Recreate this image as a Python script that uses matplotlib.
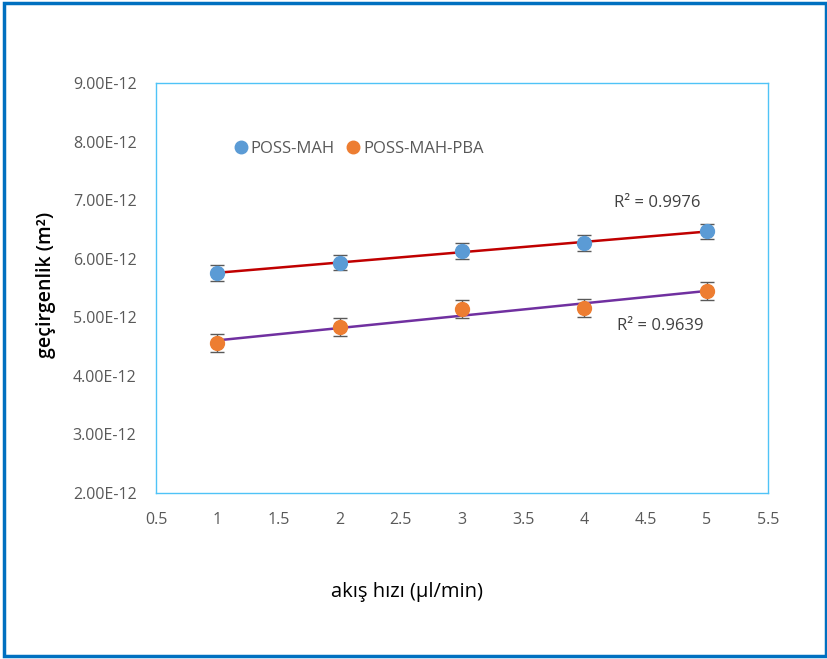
import matplotlib.pyplot as plt
import numpy as np
from matplotlib.patches import Rectangle

plt.rcParams['font.family'] = ['Open Sans', 'DejaVu Sans']

# flow rate (ul/min) and permeability (m2)
flow = [1, 2, 3, 4, 5]
poss_mah = [5.76e-12, 5.93e-12, 6.13e-12, 6.27e-12, 6.47e-12]
poss_mah_err = [0.14e-12, 0.13e-12, 0.14e-12, 0.13e-12, 0.13e-12]
poss_mah_pba = [4.56e-12, 4.83e-12, 5.14e-12, 5.16e-12, 5.45e-12]
poss_mah_pba_err = [0.15e-12, 0.15e-12, 0.15e-12, 0.15e-12, 0.15e-12]
r2_labels = ['R² = 0.9976', 'R² = 0.9639']
yticks = [2e-12, 3e-12, 4e-12, 5e-12, 6e-12, 7e-12, 8e-12, 9e-12]
ytick_labels = ['2.00E-12', '3.00E-12', '4.00E-12', '5.00E-12', '6.00E-12', '7.00E-12', '8.00E-12', '9.00E-12']
xticks = [0.5, 1, 1.5, 2, 2.5, 3, 3.5, 4, 4.5, 5, 5.5]

fig = plt.figure(figsize=(8.28, 6.59), dpi=100)
ax = fig.add_axes([0.1884, 0.2519, 0.7391, 0.6221])

blue = '#5B9BD5'
orange = '#ED7D31'

# trend lines
x = np.array(flow)
for vals, col in [(poss_mah, '#C00000'), (poss_mah_pba, '#7030A0')]:
    m, b = np.polyfit(x, vals, 1)
    ax.plot(x, m * x + b, color=col, lw=1.8, zorder=2)

ax.errorbar(flow, poss_mah, yerr=poss_mah_err, fmt='o', color=blue, ms=10,
            ecolor='#595959', elinewidth=1, capsize=5, capthick=1, label='POSS-MAH', zorder=3)
ax.errorbar(flow, poss_mah_pba, yerr=poss_mah_pba_err, fmt='o', color=orange, ms=10,
            ecolor='#595959', elinewidth=1, capsize=5, capthick=1, label='POSS-MAH-PBA', zorder=3)

ax.text(4.24, 6.95e-12, r2_labels[0], fontsize=12, color='#404040', va='center')
ax.text(4.27, 4.85e-12, r2_labels[1], fontsize=12, color='#404040', va='center')

ax.set_xlim(0.5, 5.5)
ax.set_ylim(2e-12, 9e-12)
ax.set_xticks(xticks)
ax.set_xticklabels([f'{t:g}' for t in xticks])
ax.set_yticks(yticks)
ax.set_yticklabels(ytick_labels)
ax.tick_params(length=0, labelsize=11.5, colors='#595959', pad=14)
for s in ax.spines.values():
    s.set_color('#4FC3F7')
    s.set_linewidth(1)

handles, labels = ax.get_legend_handles_labels()
handles = [h[0] for h in handles]
ax.legend(handles, labels, loc='upper left', bbox_to_anchor=(0.1, 0.895), ncol=2, frameon=False,
          fontsize=12, handletextpad=0.1, columnspacing=0.6, handlelength=1.0,
          labelcolor='#595959', markerscale=0.9)

fig.text(0.492, 0.102, 'akış hızı (µl/min)', ha='center', va='center', fontsize=14.5, color='black')
fig.text(0.056, 0.567, 'geçirgenlik (m²)', ha='center', va='center', rotation=90,
         fontsize=14, color='black', fontweight='semibold')

# outer frame
fig.patches.append(Rectangle((0.005, 0.005), 0.993, 0.99, transform=fig.transFigure,
                             fill=False, edgecolor='#0070C0', lw=2.5))

fig.savefig('out.png', dpi=100)
